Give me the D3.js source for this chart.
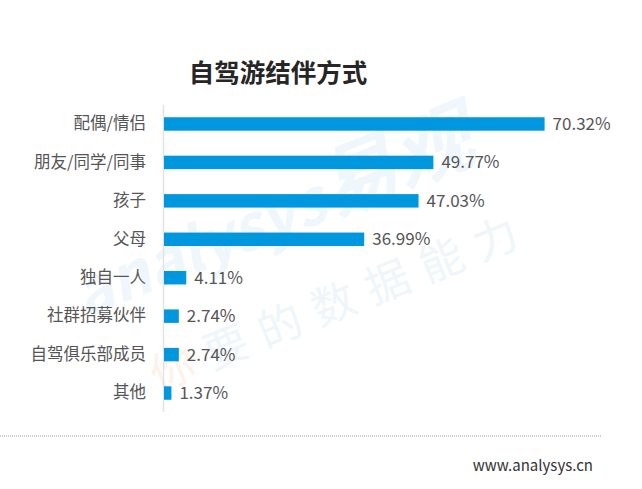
<!DOCTYPE html>
<meta charset="utf-8">
<style>
body { margin: 0; background: #fff; }
text { font-family: "Noto Sans CJK SC", "Noto Sans", sans-serif; }
</style>
<svg width="642" height="489"></svg>
<script src="https://d3js.org/d3.v7.min.js"></script>
<script>

var categories = ["配偶/情侣", "朋友/同学/同事", "孩子", "父母", "独自一人", "社群招募伙伴", "自驾俱乐部成员", "其他"];
var values = [70.32, 49.77, 47.03, 36.99, 4.11, 2.74, 2.74, 1.37];
var valueLabels = ["70.32%", "49.77%", "47.03%", "36.99%", "4.11%", "2.74%", "2.74%", "1.37%"];

var svg = d3.select("svg");

var x = d3.scaleLinear().domain([0, 70.32]).range([164, 544.6]);
var y = d3.scaleBand().domain(categories).range([104.75, 412.25])
    .paddingInner(0.65).paddingOuter(0.325);

// watermark
var wm = svg.append("g").attr("transform", "translate(85,318) rotate(-22)");
wm.append("text").attr("x", 0).attr("y", 0)
    .attr("font-size", 64).attr("font-weight", "bold").attr("font-style", "italic")
    .attr("fill", "#f0f7fc")
    .selectAll("tspan").data(["analysys", "易观"]).enter().append("tspan")
    .attr("font-size", function(d, i) { return i === 0 ? 62 : 80; })
    .text(function(d) { return d; });
var wm2 = svg.append("g").attr("transform", "translate(158,392) rotate(-22)");
wm2.append("text").attr("x", 0).attr("y", 0)
    .attr("font-size", 44).attr("letter-spacing", 14).attr("fill", "#eff6fb")
    .selectAll("tspan").data(["你", "要的数据能力"]).enter().append("tspan")
    .attr("fill", function(d, i) { return i === 0 ? "#fdf2ea" : "#eff6fb"; })
    .text(function(d) { return d; });

// title
svg.append("text")
    .attr("x", 278).attr("y", 82)
    .attr("text-anchor", "middle")
    .attr("font-size", 25.5).attr("font-weight", "bold")
    .attr("fill", "#262626")
    .text("自驾游结伴方式");

// axis line
svg.append("line")
    .attr("x1", 163.5).attr("x2", 163.5)
    .attr("y1", 105).attr("y2", 412)
    .attr("stroke", "#e3e3e3").attr("stroke-width", 1.5);

var yAxis = d3.axisLeft(y).tickSize(0).tickPadding(17);
svg.append("g")
    .attr("transform", "translate(163,0)")
    .call(yAxis)
    .call(function(g) { g.select(".domain").remove(); })
    .selectAll("text")
    .attr("font-size", 16.5).attr("fill", "#555")
    .style("font-family", "'Noto Sans CJK SC', sans-serif");

svg.selectAll(".bar")
    .data(values)
  .enter().append("rect")
    .attr("class", "bar")
    .attr("x", x(0))
    .attr("y", function(d, i) { return y(categories[i]); })
    .attr("width", function(d) { return x(d) - x(0); })
    .attr("height", y.bandwidth())
    .attr("fill", "#0097de");

svg.selectAll(".val")
    .data(values)
  .enter().append("text")
    .attr("class", "val")
    .attr("x", function(d) { return x(d) + 8; })
    .attr("y", function(d, i) { return y(categories[i]) + y.bandwidth() / 2; })
    .attr("dy", "0.35em")
    .attr("font-size", 17).attr("fill", "#555")
    .text(function(d, i) { return valueLabels[i]; });

// dotted separator
svg.append("line")
    .attr("x1", 0).attr("x2", 602)
    .attr("y1", 436).attr("y2", 436)
    .attr("stroke", "#9a9a9a").attr("stroke-width", 1)
    .attr("stroke-dasharray", "1,1");

svg.append("text")
    .attr("x", 593).attr("y", 471)
    .attr("text-anchor", "end")
    .attr("font-size", 15).attr("fill", "#333")
    .text("www.analysys.cn");

</script>
